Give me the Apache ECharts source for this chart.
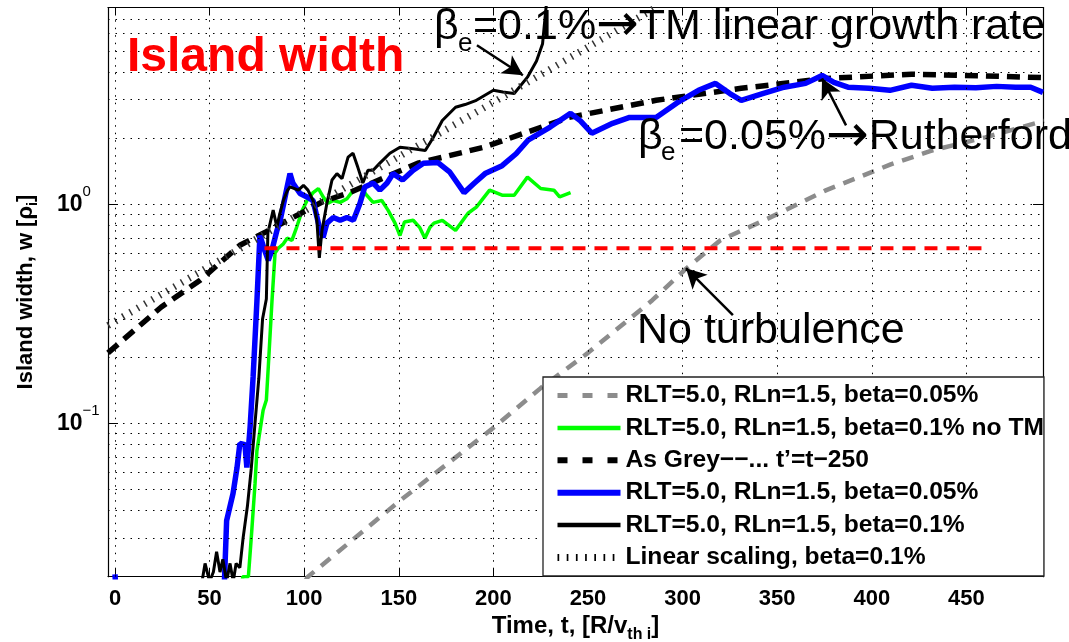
<!DOCTYPE html>
<html>
<head>
<meta charset="utf-8">
<script src="https://cdn.jsdelivr.net/npm/echarts@6/dist/echarts.min.js"></script>
<style>html,body{margin:0;padding:0;background:#fff}#c{width:1069px;height:642px}</style>
</head>
<body>
<div id="c"></div>
<script>
// ---------------- data ----------------
const greyX = [95, 102, 150, 199, 225, 250, 284, 302, 320, 345, 376, 410, 432, 460, 491];
const greyY = [0.016, 0.02, 0.044, 0.094, 0.145, 0.21, 0.365, 0.51, 0.685, 0.86, 1.16, 1.52, 1.76, 2.02, 2.4];

const greenX = [66, 67.5, 70.5, 72.2, 74, 75, 78.3, 80, 81, 83, 84.6, 86.3, 89, 91, 93.5, 96, 99, 101.5, 104.7, 107.5, 110, 112.6, 115.4, 119, 122.6, 126, 130.5, 133, 136.4, 141, 144.3, 148, 150.6, 153, 157.6, 161, 163.8, 166.5, 168.6, 173, 180, 186.6, 191, 198, 204.6, 211, 218, 225, 232, 235, 240.8];
const greenY = [0.012, 0.02, 0.02, 0.0316, 0.053, 0.075, 0.115, 0.128, 0.18, 0.365, 0.6, 0.63, 0.66, 0.7, 0.685, 0.785, 0.94, 1.04, 1.13, 1.18, 1.08, 1.01, 1.04, 1.02, 1.06, 1.16, 1.18, 1.1, 1.02, 1.04, 0.94, 0.82, 0.72, 0.83, 0.845, 0.785, 0.7, 0.785, 0.82, 0.845, 0.76, 0.91, 0.97, 1.16, 1.1, 1.1, 1.33, 1.18, 1.16, 1.08, 1.13];

const blackDashX = [-3.7, 24.5, 45, 66, 80, 94, 110, 124, 160, 195, 240, 286, 331, 376, 421, 460, 491];
const blackDashY = [0.21, 0.34, 0.45, 0.65, 0.75, 0.87, 1.03, 1.13, 1.54, 1.82, 2.49, 2.98, 3.38, 3.75, 3.92, 3.85, 3.78];

const blueX = [0, 1.5, 57, 59, 62.4, 64.5, 66, 68.7, 69.7, 71.4, 73, 75, 76.6, 79, 81, 83, 85.6, 87, 91, 92.5, 94, 97.8, 101.5, 104.7, 108.4, 110, 112, 115.4, 119, 122.6, 126, 129.5, 132, 136.5, 140, 143.8, 147, 152, 157.6, 163, 170.7, 177, 184.5, 190, 195.6, 204.6, 212, 218.3, 230, 240.8, 246, 252, 263, 272, 286, 297, 308.4, 317.4, 325, 331, 342.3, 353.7, 365, 373.7, 380, 387.4, 398.5, 409.6, 421, 432, 443.7, 455, 466, 476, 484, 490.5];
const blueY = [0.0205, 0.012, 0.012, 0.036, 0.048, 0.063, 0.081, 0.08, 0.063, 0.096, 0.163, 0.36, 0.72, 0.62, 0.555, 0.62, 0.76, 0.82, 1.2, 1.38, 1.25, 1.12, 1.08, 1.04, 0.76, 0.707, 0.82, 0.87, 0.845, 0.87, 0.845, 1.01, 1.2, 1.25, 1.16, 1.25, 1.38, 1.29, 1.43, 1.54, 1.55, 1.4, 1.13, 1.25, 1.38, 1.5, 1.7, 1.96, 2.25, 2.6, 2.4, 2.11, 2.34, 2.49, 2.49, 2.9, 3.31, 3.56, 3.2, 2.98, 3.2, 3.42, 3.56, 3.87, 3.6, 3.42, 3.38, 3.31, 3.49, 3.38, 3.42, 3.4, 3.45, 3.42, 3.42, 3.24];

const blackX = [44, 46, 47.6, 50, 52, 53.7, 55.5, 57, 59, 60.8, 62.5, 64, 66, 67.7, 70, 72, 74, 76, 78, 80, 80.8, 83.6, 85.6, 87, 89, 91, 92.5, 96.9, 99.6, 102, 104.7, 106.7, 108, 109.4, 112, 114.7, 117.3, 120, 123.2, 125.8, 128.4, 131, 133.7, 136.4, 140, 145.3, 150.6, 157.6, 164, 168, 173, 180, 185, 191, 200, 205, 211, 218, 222.8, 226, 227.3, 228.5];
const blackY = [0.015, 0.019, 0.023, 0.019, 0.021, 0.026, 0.021, 0.024, 0.019, 0.023, 0.019, 0.023, 0.022, 0.03, 0.042, 0.062, 0.1, 0.16, 0.3, 0.37, 0.74, 0.94, 0.785, 0.9, 1.04, 1.15, 1.2, 1.16, 1.22, 1.16, 1.04, 0.845, 0.57, 0.76, 1.01, 1.29, 1.38, 1.31, 1.64, 1.71, 1.47, 1.25, 1.43, 1.43, 1.54, 1.71, 1.82, 1.79, 1.76, 2.0, 2.41, 2.77, 2.85, 2.98, 3.31, 3.25, 3.2, 3.8, 4.5, 5.4, 7.1, 9];

const linearX = [-3.7, 100, 200, 286];
const linearY = [0.28, 0.93, 2.92, 7.9];

const redX = [79, 459];
const redY = [0.63, 0.63];

const legendKeys = ['grey', 'green', 'blackDash', 'blue', 'black', 'linear'];
const legendLabels = [
  'RLT=5.0, RLn=1.5, beta=0.05%',
  'RLT=5.0, RLn=1.5, beta=0.1% no TM',
  'As Grey\u2212\u2212... t\u2019=t\u2212250',
  'RLT=5.0, RLn=1.5, beta=0.05%',
  'RLT=5.0, RLn=1.5, beta=0.1%',
  'Linear scaling, beta=0.1%'
];

const xGridValues = [0, 50, 100, 150, 200, 250, 300, 350, 400, 450];
const yGridValues = [0.03, 0.04, 0.05, 0.06, 0.07, 0.08, 0.09, 0.1, 0.2, 0.3, 0.4, 0.5, 0.6, 0.7, 0.8, 0.9, 1, 2, 3, 4, 5, 6, 7];

// arrows: [tailX, tailY, tipX, tipY]
const arrows = [
  [191.3, 5.31, 215.6, 3.88],
  [386.4, 2.29, 373.7, 3.75],
  [326.6, 0.312, 301.8, 0.511]
];

// ---------------- chart ----------------
const FONT = '"Liberation Sans", Arial, Helvetica, sans-serif';
const pairs = (xs, ys) => xs.map((x, i) => [x, ys[i]]);
const dotted = { color: '#000', width: 1, type: [1.5, 6] };

const chart = echarts.init(document.getElementById('c'));

function lineSeries(name, xs, ys, color, width, type, z) {
  return {
    name: name, type: 'line', data: pairs(xs, ys), symbol: 'none', showSymbol: false,
    lineStyle: { color: color, width: width, type: type || 'solid' },
    itemStyle: { color: color },
    clip: true, animation: false, silent: true, z: z || 3
  };
}

const legendLine = [
  { color: '#8c8c8c', width: 5, type: [10, 15] },
  { color: '#00ff00', width: 4.5, type: 'solid' },
  { color: '#000', width: 6, type: [10, 15] },
  { color: '#0000ff', width: 6, type: 'solid' },
  { color: '#000', width: 4.5, type: 'solid' },
  { color: '#000', width: 7, type: [1.7, 7.5] }
];

const annRich = {
  t: { fontSize: 43, fontFamily: FONT, color: '#000' },
  a: { fontSize: 51, fontFamily: '"DejaVu Sans", sans-serif', color: '#000' }
};

const option = {
  backgroundColor: '#fff',
  animation: false,
  grid: { left: 108, right: 26, top: 7.5, bottom: 65.3, containLabel: false, outerBoundsMode: 'none' },
  xAxis: [
    {
      type: 'value', min: -3.7, max: 490.5, splitNumber: 10, position: 'bottom',
      axisLine: { show: true, onZero: false, lineStyle: { color: '#000', width: 1.2 } },
      axisTick: { show: true, inside: true, length: 8, lineStyle: { color: '#000', width: 1 } },
      axisLabel: { showMinLabel: false, showMaxLabel: false, margin: 11, color: '#000', fontSize: 22, fontWeight: 'bold', fontFamily: FONT },
      splitLine: { show: false },
      name: '{n|Time, t, [R/v}{s|th i}{n|]}', nameLocation: 'middle', nameGap: 27,
      nameTextStyle: {
        rich: {
          n: { fontSize: 24, fontWeight: 'bold', fontFamily: FONT, color: '#000', lineHeight: 32 },
          s: { fontSize: 16, fontWeight: 'bold', fontFamily: FONT, color: '#000', verticalAlign: 'bottom' }
        }
      }
    },
    {
      type: 'value', min: -3.7, max: 490.5, splitNumber: 10, position: 'top',
      axisLine: { show: true, onZero: false, lineStyle: { color: '#000', width: 1.2 } },
      axisTick: { show: true, inside: true, length: 8, lineStyle: { color: '#000', width: 1 } },
      axisLabel: { show: false }, splitLine: { show: false }
    }
  ],
  yAxis: [
    {
      type: 'log', logBase: 10, min: 0.02, max: 7.9, position: 'left',
      axisLine: { show: true, onZero: false, lineStyle: { color: '#000', width: 1.2 } },
      axisTick: { show: true, inside: true, length: 10, lineStyle: { color: '#000', width: 1 } },
      axisLabel: {
        showMinLabel: false, showMaxLabel: false, align: 'left', margin: 51,
        formatter: function (v) {
          const e = Math.round(Math.log10(v));
          return '{b|10}{p|' + (e < 0 ? '\u2212' + (-e) : e) + '}';
        },
        rich: {
          b: { fontSize: 23, fontWeight: 'bold', fontFamily: FONT, color: '#000', lineHeight: 40 },
          p: { fontSize: 15, fontFamily: FONT, color: '#000', verticalAlign: 'top' }
        }
      },
      splitLine: { show: false },
      name: '{n|Island width, w [\u03c1}{s|i}{n|]}', nameLocation: 'middle', nameGap: 68, nameRotate: 90,
      nameTextStyle: {
        rich: {
          n: { fontSize: 22, fontWeight: 'bold', fontFamily: FONT, color: '#000', lineHeight: 28 },
          s: { fontSize: 14, fontWeight: 'bold', fontFamily: FONT, color: '#000', verticalAlign: 'bottom' }
        }
      }
    },
    {
      type: 'log', logBase: 10, min: 0.02, max: 7.9, position: 'right',
      axisLine: { show: true, onZero: false, lineStyle: { color: '#000', width: 1.2 } },
      axisTick: { show: true, inside: true, length: 10, lineStyle: { color: '#000', width: 1 } },
      axisLabel: { show: false }, splitLine: { show: false }
    }
  ],
  legend: {
    orient: 'vertical', left: 543, top: 377, padding: [6, 0, 6, 11],
    itemGap: 7.4, itemWidth: 63, itemHeight: 14, selectedMode: false,
    backgroundColor: '#fff', borderColor: '#222', borderWidth: 1.3, borderRadius: 0,
    textStyle: { fontFamily: FONT, fontSize: 24.6, fontWeight: 'bold', color: '#000', lineHeight: 24, padding: [0, 0, 0, 0] },
    formatter: function (n) { return legendLabels[legendKeys.indexOf(n)]; },
    data: legendKeys.map((k, i) => ({ name: k, itemStyle: { opacity: 0 }, lineStyle: legendLine[i] })),
    z: 20
  },
  graphic: [
    { type: 'text', x: 127, y: 58, z: 50, style: { text: 'Island width', fill: '#ff0000', font: 'bold 48px ' + FONT, verticalAlign: 'middle', textVerticalAlign: 'middle' } },
    { type: 'text', x: 434, y: 27, z: 50, style: { text: '\u03b2', fill: '#000', font: '43px ' + FONT, verticalAlign: 'middle', textVerticalAlign: 'middle' } },
    { type: 'text', x: 458, y: 44, z: 50, style: { text: 'e', fill: '#000', font: '26px ' + FONT, verticalAlign: 'middle', textVerticalAlign: 'middle' } },
    { type: 'text', x: 473, y: 27, z: 50, style: { text: '{t|=0.1%}{a|\u2192}{t|TM linear growth rate}', rich: annRich, verticalAlign: 'middle', textVerticalAlign: 'middle' } },
    { type: 'text', x: 638, y: 137.5, z: 50, style: { text: '\u03b2', fill: '#000', font: '43px ' + FONT, verticalAlign: 'middle', textVerticalAlign: 'middle' } },
    { type: 'text', x: 661, y: 153, z: 50, style: { text: 'e', fill: '#000', font: '26px ' + FONT, verticalAlign: 'middle', textVerticalAlign: 'middle' } },
    { type: 'text', x: 679, y: 137.5, z: 50, style: { text: '{t|=0.05%}{a|\u2192}{t|Rutherford}', rich: annRich, verticalAlign: 'middle', textVerticalAlign: 'middle' } },
    { type: 'text', x: 637, y: 331, z: 50, style: { text: 'No turbulence', fill: '#000', font: '43px ' + FONT, verticalAlign: 'middle', textVerticalAlign: 'middle' } }
  ],
  series: [
    {
      name: 'gridHelper', type: 'line', data: [[0, 0.1]], symbol: 'none', showSymbol: false,
      lineStyle: { opacity: 0 }, silent: true, z: 1,
      markLine: {
        silent: true, symbol: ['none', 'none'], animation: false,
        label: { show: false }, lineStyle: dotted,
        emphasis: { disabled: true },
        data: yGridValues.map(v => ({ yAxis: v })).concat(xGridValues.map(v => ({ xAxis: v })))
      }
    },
    lineSeries('grey', greyX, greyY, '#8c8c8c', 4.5, [12, 9], 3),
    lineSeries('green', greenX, greenY, '#00ff00', 3.5, 'solid', 3),
    lineSeries('blackDash', blackDashX, blackDashY, '#000', 5.5, [13, 8], 3),
    lineSeries('blue', blueX, blueY, '#0000ff', 5.5, 'solid', 3),
    lineSeries('black', blackX, blackY, '#000', 3, 'solid', 3),
    lineSeries('linear', linearX, linearY, '#333', 7, [1.5, 7], 3),
    lineSeries('red', redX, redY, '#ff0000', 4, [13, 9], 4),
    {
      name: 'arrowHelper', type: 'line', data: [[0, 0.1]], symbol: 'none', showSymbol: false,
      lineStyle: { opacity: 0 }, silent: true, z: 10,
      markLine: {
        silent: true, animation: false, label: { show: false },
        symbol: ['none', 'arrow'], symbolSize: [16, 20],
        lineStyle: { color: '#000', width: 2.5, type: 'solid' },
        itemStyle: { color: '#000' },
        emphasis: { disabled: true },
        data: arrows.map(a => [{ coord: [a[0], a[1]] }, { coord: [a[2], a[3]] }])
      }
    }
  ]
};
chart.setOption(option);
</script>
</body>
</html>
